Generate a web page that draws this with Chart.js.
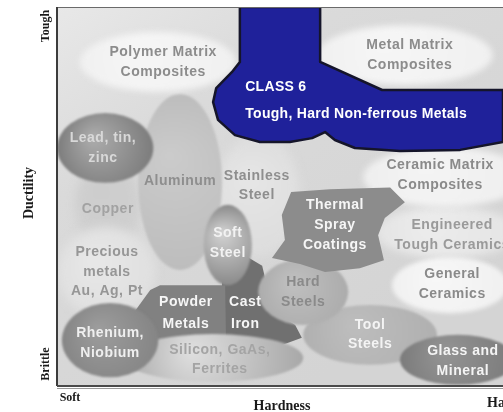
<!DOCTYPE html>
<html>
<head>
<meta charset="utf-8">
<script src="https://cdn.jsdelivr.net/npm/chart.js@4/dist/chart.umd.min.js"></script>
<style>
html,body{margin:0;padding:0;background:#ffffff;overflow:hidden;}
#wrap{width:503px;height:412px;position:relative;}
</style>
</head>
<body>
<div id="wrap"><canvas id="c" width="503" height="412"></canvas></div>
<script>
// ---- DATA (hardness 0-100 = soft..hard, ductility 0-100 = brittle..tough) ----
const names = ['Stainless Steel','Copper','Precious metals','Engineered Tough Ceramics','Ceramic Matrix Composites','General Ceramics',
  'Polymer Matrix Composites','Metal Matrix Composites','Aluminum','Lead, tin, zinc','Tool Steels','Hard Steels',
  'Soft Steel','Silicon, GaAs, Ferrites','Rhenium, Niobium','Glass and Mineral'];
const labelLines = [['Stainless','Steel'],['Copper'],['Precious','metals','Au, Ag, Pt'],['Engineered','Tough Ceramics'],['Ceramic Matrix','Composites'],['General','Ceramics'],
  ['Polymer Matrix','Composites'],['Metal Matrix','Composites'],['Aluminum'],['Lead, tin,','zinc'],['Tool','Steels'],['Hard','Steels'],
  ['Soft','Steel'],['Silicon, GaAs,','Ferrites'],['Rhenium,','Niobium'],['Glass and','Mineral']];
const hardness    = [45.1, 11.4, 11.0, 87.4, 87.0, 88.1, 22.6, 78.0, 27.6, 10.8, 70.2, 55.2, 38.3, 35.0, 11.9, 89.9];
const ductility   = [50.4, 47.8, 30.1, 40.6, 55.1, 26.6, 85.5, 87.3, 53.8, 62.8, 13.5, 24.8, 37.2,  7.4, 12.1,  6.9];
const hardSpread  = [ 9.4,  7.2, 11.2, 16.1, 18.4, 13.0, 17.5, 19.7,  9.4, 10.8, 15.0, 10.1,  5.4, 20.2, 10.8, 13.0];
const ductSpread  = [16.4, 12.7, 11.9,  6.9,  7.9,  7.4,  7.9,  7.9, 23.2,  9.2,  7.9,  8.7, 10.6,  6.3,  9.8,  6.6];
const labelHard   = [44.8, 11.4, 11.2, 88.6, 85.9, 88.6, 23.8, 79.1, 27.6, 10.3, 70.2, 55.2, 38.3, 36.5, 11.9, 91.0];
const labelDuct   = [52.8, 46.7, 30.1, 39.8, 55.7, 26.9, 85.5, 87.3, 54.1, 62.8, 13.5, 24.8, 37.7,  6.9, 11.3,  6.6];

// region outlines as [hardness, ductility]
const powderMetals = [[15.7,16.9],[20.9,25.3],[23.1,26.6],[37.7,26.6],[37.9,10.6],[20.9,10.6],[17.5,14.2]];
const castIron = [[37.0,29.3],[39.2,32.7],[42.8,34.0],[46.0,31.7],[47.3,25.3],[48.9,19.5],[53.4,16.1],[54.9,12.7],[50.0,10.6],[37.0,10.3]];
const thermalSpray = [[52.5,51.2],[61.2,51.9],[74.7,52.4],[78.0,48.5],[73.5,44.3],[72.0,39.8],[73.3,33.2],[67.9,31.1],[60.1,30.1],[54.5,32.2],[48.2,33.8],[51.1,38.5],[50.4,45.1]];
const class6 = [[41.0,100],[41.0,85.5],[39.2,82.8],[35.7,78.6],[35.0,74.9],[36.1,70.2],[39.9,66.2],[45.5,64.4],[52.2,64.4],[57.2,65.4],[60.1,67.0],[62.3,64.9],[66.8,62.8],[76.9,62.0],[90.4,62.3],[100,64.4],[100,78.1],[72.9,78.1],[59.0,85.5],[59.0,100]];
const class6Text = ['CLASS 6','Tough, Hard Non-ferrous Metals'];
const class6TextHard = [42.2, 42.2];
const class6TextDuct = [78.9, 71.8];

// ---- STYLES ----
const styleOf = {
  'Stainless Steel':{fill:'#e6e6e6', edge:'#dcdcdc', blur:5, text:'#8e8e8e'},
  'Copper':{fill:'#cdcdcd', edge:'#d0d0d0', blur:5, text:'#a2a2a2'},
  'Precious metals':{fill:'#e8e8e8', edge:'#dfdfdf', blur:5, text:'#969696'},
  'Engineered Tough Ceramics':{fill:'#ececec', edge:'#e4e4e4', blur:4, text:'#9a9a9a'},
  'Ceramic Matrix Composites':{fill:'#f4f4f4', edge:'#eeeeee', blur:3, text:'#8a8a8a'},
  'General Ceramics':{fill:'#f7f7f7', edge:'#f0f0f0', blur:2, text:'#8a8a8a'},
  'Polymer Matrix Composites':{fill:'#f6f6f6', edge:'#f0f0f0', blur:3, text:'#8c8c8c'},
  'Metal Matrix Composites':{fill:'#f6f6f6', edge:'#f0f0f0', blur:3, text:'#8c8c8c'},
  'Aluminum':{fill:'#cbcbcb', edge:'#bdbdbd', blur:1, text:'#8e8e8e'},
  'Lead, tin, zinc':{fill:'#ababab', edge:'#7c7c7c', blur:1, text:'#d8d8d8'},
  'Tool Steels':{fill:'#bdbdbd', edge:'#b0b0b0', blur:1, text:'#f4f4f4'},
  'Hard Steels':{fill:'#bfbfbf', edge:'#acacac', blur:1, text:'#8a8a8a'},
  'Soft Steel':{fill:'#d0d0d0', edge:'#8a8a8a', blur:1, text:'#f2f2f2'},
  'Silicon, GaAs, Ferrites':{fill:'#dedede', edge:'#a8a8a8', blur:1, text:'#a4a4a4'},
  'Rhenium, Niobium':{fill:'#9c9c9c', edge:'#858585', blur:1, text:'#efefef'},
  'Glass and Mineral':{fill:'#939393', edge:'#7b7b7b', blur:1, text:'#f4f4f4'}
};
const LABEL_FONT = 'bold 14px "Liberation Sans", Arial, sans-serif';

const mapPlugin = {
  id:'materialMap',
  beforeDatasetsDraw(chart){
    const ctx = chart.ctx, xs = chart.scales.x, ys = chart.scales.y, a = chart.chartArea;
    const X = v => xs.getPixelForValue(v), Y = v => ys.getPixelForValue(v);
    ctx.save();
    ctx.beginPath(); ctx.rect(a.left, a.top, a.right - a.left, a.bottom - a.top); ctx.clip();
    const bg = ctx.createLinearGradient(a.left, a.top, a.left + 250, a.bottom);
    bg.addColorStop(0, '#e8e8e8'); bg.addColorStop(0.35, '#dadada'); bg.addColorStop(1, '#d4d4d4');
    ctx.fillStyle = bg; ctx.fillRect(a.left, a.top, a.right - a.left, a.bottom - a.top);

    function ellipse(i){
      const s = styleOf[names[i]];
      const cx = X(hardness[i]), cy = Y(ductility[i]);
      const rx = Math.abs(X(hardness[i] + hardSpread[i]) - cx), ry = Math.abs(Y(ductility[i] + ductSpread[i]) - cy);
      const g = ctx.createRadialGradient(cx - rx * 0.25, cy - ry * 0.3, 2, cx, cy, Math.max(rx, ry));
      g.addColorStop(0, s.fill); g.addColorStop(1, s.edge);
      ctx.save();
      ctx.filter = 'blur(' + s.blur + 'px)';
      ctx.fillStyle = g;
      ctx.beginPath(); ctx.ellipse(cx, cy, rx, ry, 0, 0, Math.PI * 2); ctx.fill();
      ctx.restore();
    }
    function poly(pts, fill, stroke, lw){
      ctx.save();
      ctx.beginPath();
      pts.forEach((p, k) => { const px = X(p[0]), py = Y(p[1]); k ? ctx.lineTo(px, py) : ctx.moveTo(px, py); });
      ctx.closePath();
      ctx.lineJoin = 'round';
      ctx.fillStyle = fill; ctx.fill();
      if (stroke) { ctx.strokeStyle = stroke; ctx.lineWidth = lw; ctx.stroke(); }
      ctx.restore();
    }
    const idx = n => names.indexOf(n);
    ['Stainless Steel','Copper','Precious metals','Engineered Tough Ceramics','Ceramic Matrix Composites','General Ceramics',
     'Polymer Matrix Composites','Metal Matrix Composites','Aluminum','Lead, tin, zinc'].forEach(n => ellipse(idx(n)));
    poly(castIron, '#707070');
    ellipse(idx('Soft Steel'));
    poly(powderMetals, '#818181');
    ellipse(idx('Tool Steels'));
    ellipse(idx('Hard Steels'));
    poly(thermalSpray, '#8c8c8c');
    ellipse(idx('Silicon, GaAs, Ferrites'));
    ellipse(idx('Rhenium, Niobium'));
    ellipse(idx('Glass and Mineral'));
    poly(class6, '#1f219a', '#15152a', 2.5);

    // labels
    ctx.font = LABEL_FONT; ctx.textAlign = 'center'; ctx.textBaseline = 'middle';
    ctx.letterSpacing = '0.5px';
    names.forEach((n, i) => {
      const lines = labelLines[i], lh = 19.5;
      const cx = X(labelHard[i]), cy = Y(labelDuct[i]);
      ctx.fillStyle = styleOf[n].text;
      lines.forEach((t, k) => ctx.fillText(t, cx, cy + (k - (lines.length - 1) / 2) * lh));
    });
    ctx.fillStyle = '#f6f6f6';
    ctx.fillText('Powder', X(28.9), Y(19.3) - 11); ctx.fillText('Metals', X(28.9), Y(19.3) + 11);
    ctx.fillText('Cast', X(42.2), Y(19.3) - 11); ctx.fillText('Iron', X(42.2), Y(19.3) + 11);
    ctx.fillText('Thermal', X(62.3), Y(42.5) - 20); ctx.fillText('Spray', X(62.3), Y(42.5)); ctx.fillText('Coatings', X(62.3), Y(42.5) + 20);
    ctx.font = 'bold 14px "Liberation Sans", Arial, sans-serif'; ctx.textAlign = 'left'; ctx.fillStyle = '#ffffff';
    ctx.letterSpacing = '0.3px';
    class6Text.forEach((t, k) => ctx.fillText(t, X(class6TextHard[k]), Y(class6TextDuct[k])));
    ctx.letterSpacing = '0px';
    ctx.restore();

    // frame
    ctx.save();
    ctx.strokeStyle = '#6a6a6a'; ctx.lineWidth = 1;
    ctx.beginPath(); ctx.moveTo(a.left, a.top + 0.5); ctx.lineTo(a.right, a.top + 0.5); ctx.stroke();
    ctx.strokeStyle = '#3c3c3c'; ctx.lineWidth = 2;
    ctx.beginPath(); ctx.moveTo(a.left, a.top); ctx.lineTo(a.left, a.bottom); ctx.stroke();
    ctx.strokeStyle = '#4a4a4a'; ctx.lineWidth = 2;
    ctx.beginPath(); ctx.moveTo(a.left, a.bottom); ctx.lineTo(a.right, a.bottom); ctx.stroke();
    ctx.strokeStyle = '#9a9a9a'; ctx.lineWidth = 1;
    ctx.beginPath(); ctx.moveTo(a.left, a.bottom + 2.5); ctx.lineTo(a.right, a.bottom + 2.5); ctx.stroke();

    // axis texts
    ctx.fillStyle = '#1a1a1a'; ctx.textBaseline = 'middle'; ctx.textAlign = 'center';
    ctx.font = 'bold 14px "Liberation Serif", "Times New Roman", serif';
    ctx.fillText('Hardness', (a.left + a.right) / 2 + 2, 406);
    ctx.font = 'bold 12px "Liberation Serif", "Times New Roman", serif';
    ctx.fillText('Soft', 70, 398);
    ctx.font = 'bold 14px "Liberation Serif", "Times New Roman", serif';
    ctx.textAlign = 'left'; ctx.fillText('Hard', 487, 403);
    ctx.font = 'bold 12px "Liberation Serif", "Times New Roman", serif';
    ctx.textAlign = 'center';
    ctx.save(); ctx.translate(46, 26); ctx.rotate(-Math.PI / 2); ctx.fillText('Tough', 0, 0); ctx.restore();
    ctx.save(); ctx.translate(46, 364); ctx.rotate(-Math.PI / 2); ctx.fillText('Brittle', 0, 0); ctx.restore();
    ctx.font = 'bold 14px "Liberation Serif", "Times New Roman", serif';
    ctx.save(); ctx.translate(29, 193); ctx.rotate(-Math.PI / 2); ctx.fillText('Ductility', 0, 0); ctx.restore();
    ctx.restore();
  }
};

new Chart(document.getElementById('c'), {
  type: 'scatter',
  data: { datasets: [{ label: 'Materials', data: hardness.map((h, i) => ({ x: h, y: ductility[i] })), pointRadius: 0, pointHoverRadius: 0 }] },
  options: {
    responsive: false, animation: false, events: [],
    layout: { padding: { left: 57, top: 7, right: 0, bottom: 26 } },
    plugins: { legend: { display: false }, tooltip: { enabled: false } },
    scales: {
      x: { type: 'linear', min: 0, max: 100, display: false },
      y: { type: 'linear', min: 0, max: 100, display: false }
    }
  },
  plugins: [mapPlugin]
});
</script>
</body>
</html>
